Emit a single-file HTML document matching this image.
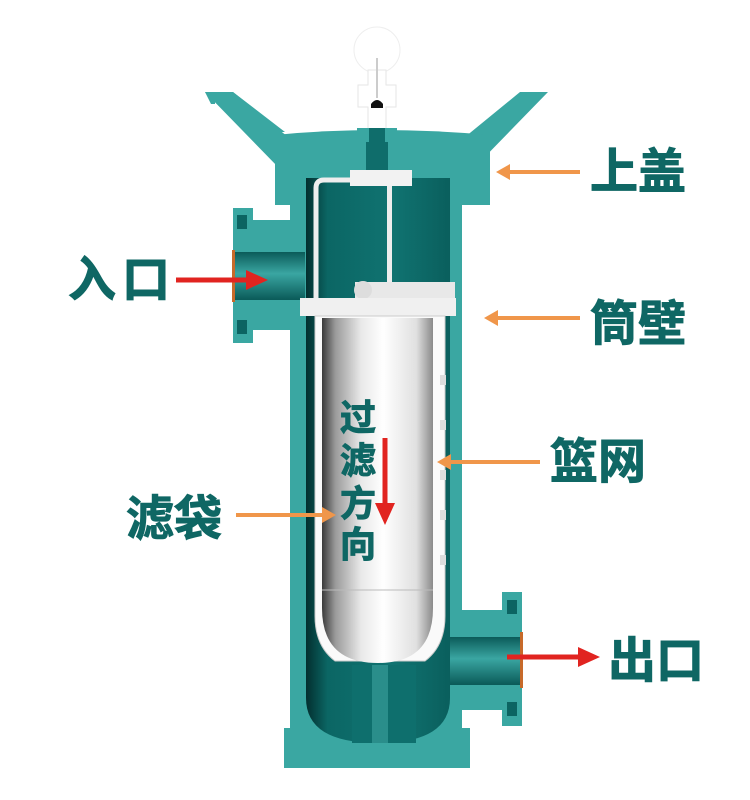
<!DOCTYPE html>
<html><head><meta charset="utf-8"><style>
html,body{margin:0;padding:0;background:#fff;}
svg{display:block}
.t{font-family:"Liberation Sans","Noto Sans CJK SC",sans-serif;font-weight:bold;fill:#0f6764;stroke:#0f6764;stroke-width:1;}
</style></head><body>
<svg width="750" height="800" viewBox="0 0 750 800" xmlns="http://www.w3.org/2000/svg">
<defs>
<linearGradient id="bag" x1="0" x2="1" y1="0" y2="0">
<stop offset="0" stop-color="#3a3a3a"/><stop offset="0.12" stop-color="#9a9a9a"/><stop offset="0.35" stop-color="#e8e8e8"/><stop offset="0.55" stop-color="#ffffff"/><stop offset="0.85" stop-color="#e0e0e0"/><stop offset="1" stop-color="#8a8a8a"/>
</linearGradient>
<linearGradient id="pipe" x1="0" x2="0" y1="0" y2="1">
<stop offset="0" stop-color="#0b5b59"/><stop offset="0.45" stop-color="#3aa6a2"/><stop offset="1" stop-color="#0a5a58"/>
</linearGradient>
<linearGradient id="cav" x1="0" x2="1" y1="0" y2="0">
<stop offset="0" stop-color="#032f2f"/><stop offset="0.15" stop-color="#0b6664"/><stop offset="0.6" stop-color="#107371"/><stop offset="1" stop-color="#0a5f5d"/>
</linearGradient>
</defs>
<!-- top knob -->
<circle cx="377" cy="50" r="23" fill="#fff" stroke="#eee"/>
<path d="M358,85 h10 v-15 h18 v15 h10 v22 h-10 v28 h-18 v-28 h-10z" fill="#fff" stroke="#e6e6e6"/>
<line x1="377" y1="58" x2="377" y2="98" stroke="#ccc" stroke-width="2"/>
<path d="M371,104 q6,-8 12,0 v4 h-12z" fill="#111"/>
<!-- lid wings -->
<path d="M205,92 h28 l52,40 h-10 v30z" fill="#3aa7a2"/>
<path d="M205,92 h28 l55,45 v30 h-10z" fill="#3aa7a2"/>
<path d="M548,92 h-28 l-55,45 v30 h10z" fill="#3aa7a2"/>
<path d="M205,92 h10 v12 h-4z" fill="#3aa7a2"/>
<path d="M275,135 q100,-10 215,0 v70 h-215z" fill="#3aa7a2"/>
<rect x="366" y="128" width="22" height="52" fill="#0f6d6b"/>
<rect x="357" y="128" width="40" height="14" fill="#3aa7a2"/>
<rect x="369" y="128" width="16" height="52" fill="#0f6d6b"/>
<!-- body walls -->
<rect x="290" y="190" width="172" height="545" fill="#3aa7a2"/>
<rect x="284" y="728" width="186" height="40" fill="#3aa7a2"/>
<!-- inlet -->
<path d="M253,220 h40 v110 h-40z" fill="#3aa7a2"/>
<rect x="233" y="208" width="20" height="135" fill="#3aa7a2"/>
<rect x="237" y="215" width="10" height="14" fill="#0c6462"/><rect x="237" y="320" width="10" height="14" fill="#0c6462"/>
<rect x="235" y="252" width="70" height="48" fill="url(#pipe)"/>
<rect x="232" y="250" width="3" height="52" fill="#c76a2a"/>
<!-- outlet -->
<path d="M460,610 h45 v100 h-45z" fill="#3aa7a2"/>
<rect x="502" y="592" width="20" height="134" fill="#3aa7a2"/>
<rect x="507" y="600" width="10" height="14" fill="#0c6462"/><rect x="507" y="702" width="10" height="14" fill="#0c6462"/>
<rect x="445" y="637" width="75" height="48" fill="url(#pipe)"/>
<rect x="520" y="632" width="3" height="56" fill="#c76a2a"/>
<!-- cavity -->
<path d="M306,178 h144 v520 q0,45 -72,45 q-72,0 -72,-45z" fill="url(#cav)"/>
<rect x="352" y="665" width="64" height="78" fill="#0e6f6d"/>
<rect x="372" y="665" width="16" height="78" fill="#2a8e8b"/>
<!-- internal pipe -->
<path d="M316,300 v-112 q0,-8 8,-8 h30" fill="none" stroke="#eee" stroke-width="5"/>
<rect x="350" y="170" width="62" height="16" fill="#f2f2f2"/>
<rect x="387" y="186" width="5" height="120" fill="#eee"/>
<rect x="355" y="282" width="100" height="16" fill="#e8e8e8"/>
<circle cx="363" cy="290" r="9" fill="#ddd"/>
<rect x="300" y="298" width="156" height="18" fill="#f0f0f0"/>
<!-- basket -->
<path d="M315,316 h130 v300 q0,30 -20,45 h-90 q-20,-15 -20,-45z" fill="#fafafa" stroke="#ccc"/>
<path d="M322,318 h111 v290 q0,55 -55,55 q-56,0 -56,-55z" fill="url(#bag)"/>
<line x1="322" y1="590" x2="433" y2="590" stroke="#bbb"/>
<g fill="#ddd"><rect x="440" y="375" width="6" height="10"/><rect x="440" y="420" width="6" height="10"/><rect x="440" y="470" width="6" height="10"/><rect x="440" y="510" width="6" height="10"/><rect x="440" y="555" width="6" height="10"/></g>
<!-- labels -->
<text class="t" x="590" y="188" font-size="48">上盖</text>
<text class="t" x="590" y="340" font-size="48">筒壁</text>
<text class="t" x="550" y="478" font-size="48">篮网</text>
<text class="t" x="608" y="677" font-size="48">出口</text>
<text class="t" x="68" y="296" font-size="48" letter-spacing="6">入口</text>
<text class="t" x="126" y="535" font-size="48">滤袋</text>
<g class="t" font-size="36">
<text x="340" y="430">过</text><text x="340" y="473">滤</text><text x="340" y="516">方</text><text x="340" y="557">向</text>
</g>
<!-- orange arrows -->
<g stroke="#f0964a" stroke-width="4" fill="#f0964a">
<line x1="580" y1="172" x2="508" y2="172"/><path d="M496,172 l14,-8 v16z" stroke="none"/>
<line x1="580" y1="318" x2="496" y2="318"/><path d="M484,318 l14,-8 v16z" stroke="none"/>
<line x1="540" y1="462" x2="450" y2="462"/><path d="M437,462 l14,-8 v16z" stroke="none"/>
<line x1="236" y1="515" x2="322" y2="515"/><path d="M336,515 l-14,-8 v16z" stroke="none"/>
</g>
<!-- red arrows -->
<g stroke="#e12420" stroke-width="5" fill="#e12420">
<line x1="176" y1="280" x2="248" y2="280"/><path d="M268,280 l-22,-10 v20z" stroke="none"/>
<line x1="507" y1="657" x2="580" y2="657"/><path d="M600,657 l-22,-10 v20z" stroke="none"/>
<line x1="385" y1="438" x2="385" y2="505"/><path d="M385,525 l-10,-22 h20z" stroke="none"/>
</g>
</svg>
</body></html>
